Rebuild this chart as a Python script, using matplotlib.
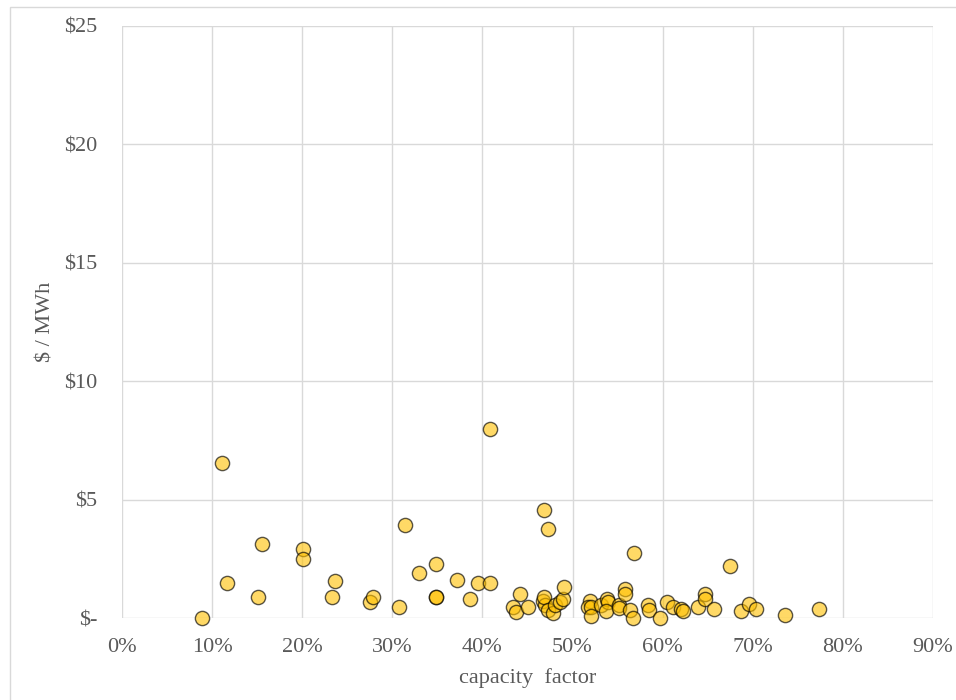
import matplotlib
matplotlib.use("Agg")
import matplotlib.pyplot as plt
from matplotlib.patches import Rectangle

# capacity factor (%) and cost ($/MWh)
capacity_factor = [
    8.9, 11.1, 11.6, 15.1, 15.5, 20.05, 20.05, 23.3, 23.6, 27.5, 27.9,
    30.7, 31.4, 33.0, 34.9, 34.9, 34.9, 37.2, 38.6, 39.5, 40.8, 40.8,
    43.4, 43.7, 44.2, 45.0, 46.8, 46.7, 46.9, 46.8, 47.3, 47.3, 47.8,
    48.0, 48.6, 48.9, 49.1,
    51.9, 51.7, 52.1, 52.1, 53.2, 53.8, 53.9, 53.7, 55.1, 55.2, 55.8,
    55.8, 56.4, 56.7, 56.8, 58.4, 58.5, 59.7, 60.5, 61.2, 62.0, 62.3,
    63.9, 64.7, 64.7, 65.7, 67.5, 68.7, 69.6, 70.4, 73.6, 77.4,
]
cost = [
    0.0, 6.57, 1.48, 0.90, 3.12, 2.91, 2.49, 0.90, 1.56, 0.70, 0.91,
    0.49, 3.93, 1.93, 2.28, 0.90, 0.90, 1.60, 0.80, 1.48, 7.99, 1.48,
    0.46, 0.27, 1.04, 0.46, 4.56, 0.72, 0.55, 0.89, 3.76, 0.35, 0.24,
    0.55, 0.69, 0.81, 1.31,
    0.72, 0.46, 0.46, 0.10, 0.57, 0.80, 0.69, 0.30, 0.57, 0.43, 1.24,
    1.03, 0.35, 0.00, 2.77, 0.55, 0.35, 0.00, 0.69, 0.46, 0.41, 0.30,
    0.49, 1.01, 0.80, 0.38, 2.21, 0.32, 0.60, 0.41, 0.15, 0.38,
]

x_ticks = [0, 10, 20, 30, 40, 50, 60, 70, 80, 90]
x_tick_labels = ["0%", "10%", "20%", "30%", "40%", "50%", "60%", "70%", "80%", "90%"]
y_ticks = [0, 5, 10, 15, 20, 25]
y_tick_labels = ["$-", "$5", "$10", "$15", "$20", "$25"]

plt.rcParams['font.family'] = ['Liberation Serif', 'DejaVu Serif']
text_color = '#595959'
grid_color = '#D9D9D9'

fig = plt.figure(figsize=(9.56, 7.0), dpi=100)
fig.patches.append(Rectangle((10 / 956, -0.05), 1.2, 1 - 7 / 700 + 0.05,
                             transform=fig.transFigure, fill=False,
                             edgecolor=grid_color, linewidth=1.0))
ax = fig.add_axes([122 / 956, 1 - 618.3 / 700, (933 - 122) / 956, (618.3 - 26) / 700])

ax.scatter(capacity_factor, cost, s=105, facecolor=(1.0, 0.753, 0.0, 0.6),
           edgecolor=(0.0, 0.0, 0.0, 0.65), linewidth=1.0, zorder=3, clip_on=False)

ax.set_xlim(0, 90)
ax.set_ylim(0, 25)
ax.set_xticks(x_ticks)
ax.set_xticklabels(x_tick_labels)
ax.set_yticks(y_ticks)
ax.set_yticklabels(y_tick_labels)
ax.grid(True, color=grid_color, linewidth=1.0, zorder=0)
ax.set_axisbelow(True)
for s in ax.spines.values():
    s.set_visible(False)
ax.tick_params(length=0, labelsize=16, colors=text_color)
ax.tick_params(axis='x', pad=14)
ax.tick_params(axis='y', pad=18)

ax.set_xlabel("capacity  factor", fontsize=16, color=text_color, labelpad=8)
ax.set_ylabel("$ / MWh", fontsize=16, color=text_color, labelpad=6)

fig.savefig("out.png", dpi=100)
